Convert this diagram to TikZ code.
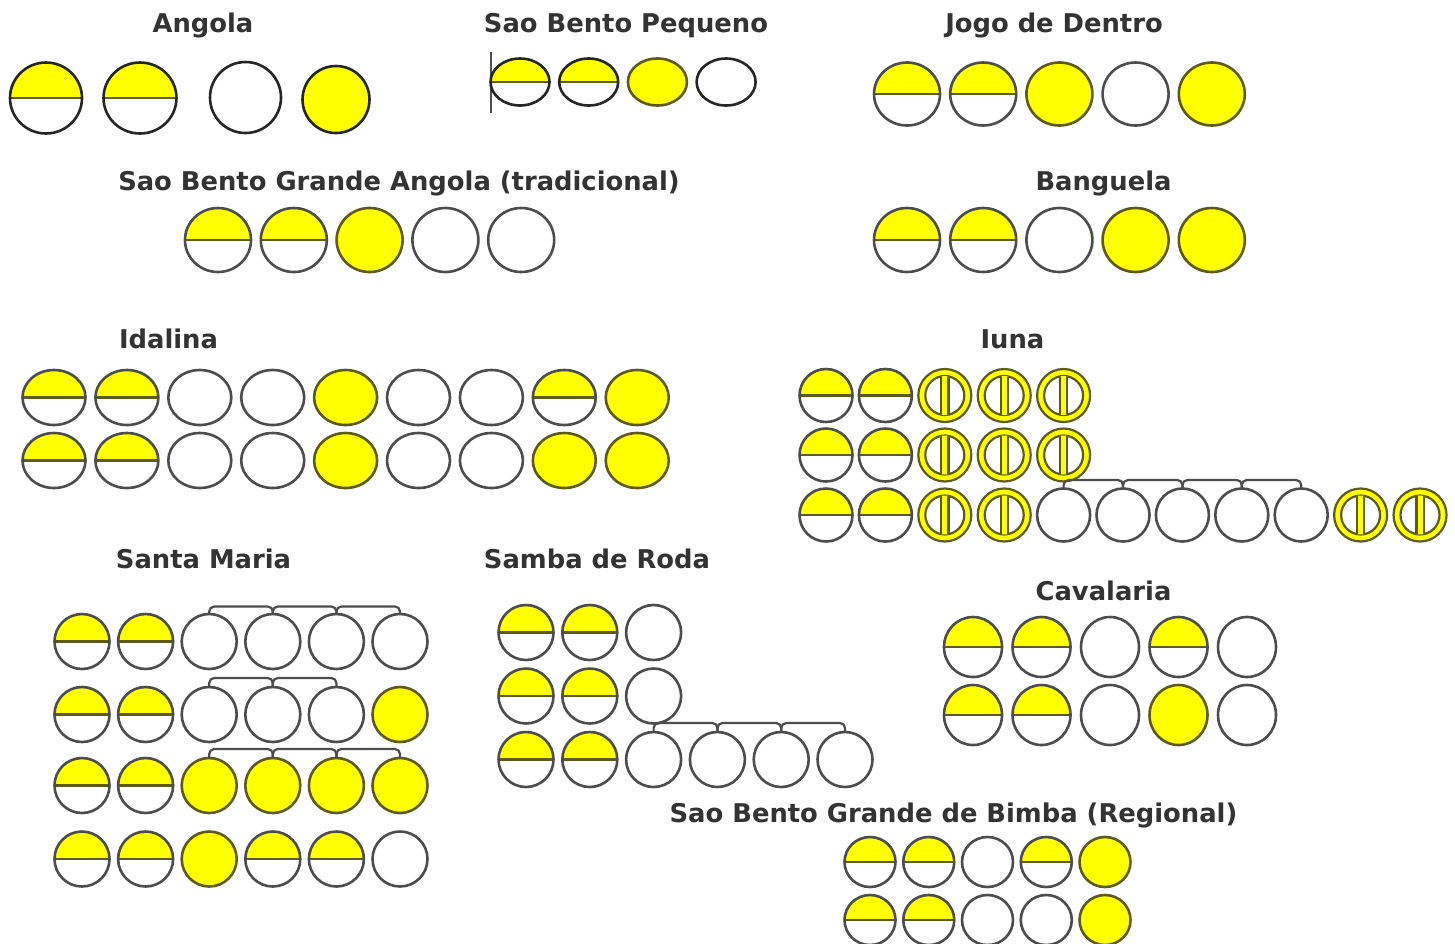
\documentclass[tikz,border=0pt]{standalone}
\usepackage{fontspec}
\setmainfont{DejaVu Sans}
\usetikzlibrary{shapes.geometric}
\definecolor{yel}{HTML}{FFFF00}
\definecolor{gln}{HTML}{4D4D4D}
\definecolor{oln}{HTML}{5E5B1A}
\definecolor{dkl}{HTML}{262626}
\definecolor{txt}{HTML}{333333}
\newcommand\ballrow[6]{%
  \foreach \t [count=\i] in {#6} \node[ball,#5,\t] (#1-\i) at ({#2+(\i-1)*#3},#4) {};}
\begin{document}
\begin{tikzpicture}[x=1pt,y=-1pt,
  ttl/.style={font=\fontsize{25.8}{31}\selectfont\bfseries, text=txt, inner sep=0pt, anchor=base},
  ball/.style={ellipse, inner sep=0pt, outer sep=0pt, draw=gln, line width=2.6pt, fill=white},
  sz/.style 2 args={minimum width=#1pt, minimum height=#2pt},
  hf/.style={path picture={
      \fill[yel] (path picture bounding box.north west) rectangle (path picture bounding box.east);
      \draw[oln, line width=2.6pt] (path picture bounding box.west) -- (path picture bounding box.east);}},
  wh/.style={},
  ye/.style={fill=yel, draw=oln},
  iu/.style={fill=yel, draw=oln, line width=2.2pt, path picture={
      \fill[white, draw=oln, line width=2.2pt] (path picture bounding box.center) circle (19.5pt);
      \begin{scope}
        \clip (path picture bounding box.center) circle (19.5pt);
        \fill[yel, draw=oln, line width=2.2pt] ([xshift=-3.6pt,yshift=-25pt]path picture bounding box.center) rectangle ([xshift=3.6pt,yshift=25pt]path picture bounding box.center);
      \end{scope}}},
  dk/.style={draw=dkl},
  brk/.style={draw=gln, line width=2.2pt, rounded corners=5pt}]
\useasboundingbox[fill=white] (0,0) rectangle (1455,943);

% titles
\node[ttl] (t-ang) at (203,32) {Angola};
\node[ttl] (t-sbp) at (626,32) {Sao Bento Pequeno};
\node[ttl] (t-jdd) at (1054,32) {Jogo de Dentro};
\node[ttl] (t-sbga) at (399,190) {Sao Bento Grande Angola (tradicional)};
\node[ttl] (t-ban) at (1103.5,190) {Banguela};
\node[ttl] (t-ida) at (168.5,348) {Idalina};
\node[ttl] (t-iun) at (1012.5,348) {Iuna};
\node[ttl] (t-sm) at (203.5,568) {Santa Maria};
\node[ttl] (t-sr) at (597,568) {Samba de Roda};
\node[ttl] (t-cav) at (1103.5,600) {Cavalaria};
\node[ttl] (t-bim) at (953.5,822) {Sao Bento Grande de Bimba (Regional)};

% Angola
\node[ball,dk,sz={72}{71},hf] (ang-1) at (46,98) {};
\node[ball,dk,sz={73}{71},hf] (ang-2) at (140,98) {};
\node[ball,dk,sz={71}{71}] (ang-3) at (245.5,97.5) {};
\node[ball,dk,sz={67}{67},fill=yel] (ang-4) at (336,99.5) {};

% Sao Bento Pequeno
\coordinate (sbp-a) at (491,52);
\coordinate (sbp-b) at (491,113);
\draw[gln, line width=1.5pt] (sbp-a) -- (sbp-b);
\ballrow{sbp}{520}{68.7}{82}{sz={59}{47},dk}{hf,hf,ye,wh}

% Jogo de Dentro
\ballrow{jdd}{907}{76.2}{94}{sz={66}{63}}{hf,hf,ye,wh,ye}

% Sao Bento Grande Angola
\ballrow{sbga}{218}{75.8}{240}{sz={66}{64}}{hf,hf,ye,wh,wh}

% Banguela
\ballrow{ban}{907}{76.2}{240}{sz={66}{64}}{hf,hf,wh,ye,ye}

% Idalina
\ballrow{ida1}{54}{72.9}{397.5}{sz={63}{55}}{hf,hf,wh,wh,ye,wh,wh,hf,ye}
\ballrow{ida2}{54}{72.9}{460.5}{sz={63}{55}}{hf,hf,wh,wh,ye,wh,wh,ye,ye}

% Iuna
\ballrow{iu1}{826}{59.4}{395.5}{sz={53}{53}}{hf,hf,iu,iu,iu}
\ballrow{iu2}{826}{59.4}{455}{sz={53}{53}}{hf,hf,iu,iu,iu}
\ballrow{iu3}{826}{59.4}{515}{sz={53}{53}}{hf,hf,iu,iu,wh,wh,wh,wh,wh,iu,iu}
\foreach \a/\b in {5/6,6/7,7/8,8/9}
  \draw[brk] (iu3-\a.north) -- ++(0,-8.5) -| (iu3-\b.north);

% Santa Maria
\ballrow{sm1}{82}{63.6}{641.5}{sz={55}{55}}{hf,hf,wh,wh,wh,wh}
\ballrow{sm2}{82}{63.6}{714.5}{sz={55}{55}}{hf,hf,wh,wh,wh,ye}
\ballrow{sm3}{82}{63.6}{785.5}{sz={55}{55}}{hf,hf,ye,ye,ye,ye}
\ballrow{sm4}{82}{63.6}{859}{sz={55}{55}}{hf,hf,ye,hf,hf,wh}
\foreach \a/\b in {3/4,4/5,5/6}
  \draw[brk] (sm1-\a.north) -- ++(0,-7.5) -| (sm1-\b.north);
\foreach \a/\b in {3/4,4/5}
  \draw[brk] (sm2-\a.north) -- ++(0,-9) -| (sm2-\b.north);
\foreach \a/\b in {3/4,4/5,5/6}
  \draw[brk] (sm3-\a.north) -- ++(0,-9) -| (sm3-\b.north);

% Samba de Roda
\ballrow{sr1}{526}{63.8}{632.5}{sz={55}{55}}{hf,hf,wh}
\ballrow{sr2}{526}{63.8}{696}{sz={55}{55}}{hf,hf,wh}
\ballrow{sr3}{526}{63.8}{759.5}{sz={55}{55}}{hf,hf,wh,wh,wh,wh}
\foreach \a/\b in {3/4,4/5,5/6}
  \draw[brk] (sr3-\a.north) -- ++(0,-9) -| (sr3-\b.north);

% Cavalaria
\ballrow{cav1}{973}{68.5}{647}{sz={58}{60}}{hf,hf,wh,hf,wh}
\ballrow{cav2}{973}{68.5}{715}{sz={58}{60}}{hf,hf,wh,ye,wh}

% Bimba
\ballrow{bim1}{870}{58.75}{862}{sz={51}{50}}{hf,hf,wh,hf,ye}
\ballrow{bim2}{870}{58.75}{920}{sz={51}{50}}{hf,hf,wh,wh,ye}
\end{tikzpicture}
\end{document}
